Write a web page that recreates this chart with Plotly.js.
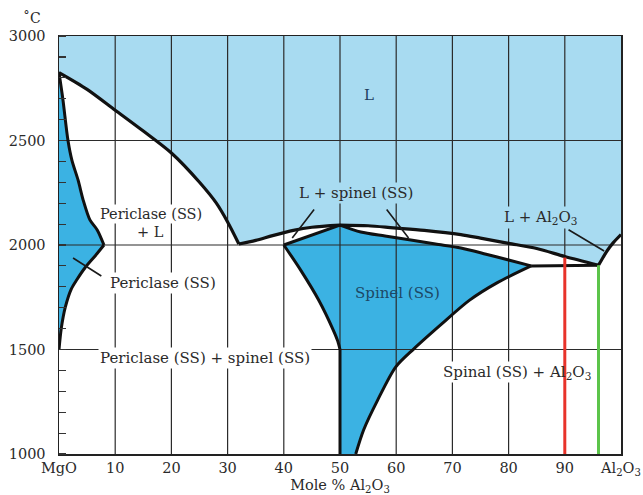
<!DOCTYPE html>
<html>
<head>
<meta charset="utf-8">
<script src="https://cdn.plot.ly/plotly-3.0.1.min.js"></script>
<style>html,body{margin:0;padding:0;background:#fff}#chart{width:643px;height:495px}</style>
</head>
<body>
<div id="chart"></div>
<script>
// ---- Data (mole % Al2O3, temperature °C) ----
var xTickVals = [0, 10, 20, 30, 40, 50, 60, 70, 80, 90, 100];
var xTickText = ['MgO', '10', '20', '30', '40', '50', '60', '70', '80', '90', 'Al<sub>2</sub>O<sub>3</sub>'];
var yTickVals = [1000, 1500, 2000, 2500, 3000];
var xGridVals = [10, 20, 30, 40, 50, 60, 70, 80, 90];
var yGridVals = [1500, 2000, 2500];

// Liquidus, MgO side (to the periclase–spinel eutectic)
var liqLeftX = [0, 5, 10, 15, 20, 25, 28, 30, 32];
var liqLeftY = [2825, 2745, 2645, 2545, 2440, 2300, 2200, 2110, 2005];
// Liquidus, spinel left branch (eutectic to congruent maximum)
var liqMidX = [32, 35, 38, 41.7, 45, 50];
var liqMidY = [2005, 2022, 2045, 2070, 2085, 2095];
// Liquidus, spinel right branch (maximum to spinel–Al2O3 eutectic)
var liqRightX = [50, 55, 59.5, 65, 71.5, 75, 80, 85, 90, 96];
var liqRightY = [2095, 2092, 2082, 2070, 2050, 2033, 2008, 1983, 1945, 1903];
// Liquidus, Al2O3 side
var liqAlX = [96, 96.8, 97.6, 98.6, 100];
var liqAlY = [1903, 1940, 1975, 2010, 2050];

// Periclase (SS) field
var perSolidusX = [0, 0.7, 1.6, 2.3, 3.4, 4.3, 5.5, 6.8, 8];
var perSolidusY = [2825, 2695, 2500, 2405, 2310, 2215, 2120, 2072, 2000];
var perSolvusX = [8, 6.5, 4.6, 3.2, 2.2, 1.1, 0.4, 0];
var perSolvusY = [2000, 1950, 1890, 1835, 1790, 1700, 1600, 1500];

// Spinel (SS) field
var spSolLeftX = [40, 50];
var spSolLeftY = [2000, 2095];
var spSolRightX = [50, 53.7, 58, 62.6, 67, 71.5, 76, 80, 84];
var spSolRightY = [2095, 2062, 2043, 2024, 2005, 1986, 1956, 1928, 1900];
var spSolvRightX = [84, 78, 73, 68, 63.1, 59.9, 56.7, 54.2, 52.8];
var spSolvRightY = [1900, 1820, 1735, 1620, 1502, 1416, 1258, 1115, 1000];
var spVertX = [50, 50];
var spVertY = [1000, 1500];
var spSolvLeftX = [50, 49.6, 48.8, 46.2, 43, 40];
var spSolvLeftY = [1500, 1540, 1593, 1737, 1880, 2000];

// Spinel–Al2O3 eutectic isotherm
var eutRightX = [84, 96];
var eutRightY = [1900, 1903];

// Marked compositions
var redX = [90, 90], redY = [1000, 1940];
var greenX = [96, 96], greenY = [1000, 1903];

var xMin = 0, xMax = 100, yMin = 1000, yMax = 3000;

// ---- Build traces ----
function rev(a) { return a.slice().reverse(); }

var lightBlue = '#a8dbf1';
var darkBlue = '#3bb2e3';
var bnd = '#111111';

var liqPolyX = [xMin, xMax].concat(rev(liqAlX), rev(liqRightX).slice(1), rev(liqMidX).slice(1), rev(liqLeftX).slice(1));
var liqPolyY = [yMax, yMax].concat(rev(liqAlY), rev(liqRightY).slice(1), rev(liqMidY).slice(1), rev(liqLeftY).slice(1));

var perPolyX = perSolidusX.concat(perSolvusX.slice(1));
var perPolyY = perSolidusY.concat(perSolvusY.slice(1));

var spPolyX = spSolLeftX.concat(spSolRightX.slice(1), spSolvRightX.slice(1), spVertX, spSolvLeftX.slice(1));
var spPolyY = spSolLeftY.concat(spSolRightY.slice(1), spSolvRightY.slice(1), spVertY, spSolvLeftY.slice(1));

var gx = [], gy = [];
xGridVals.forEach(function (v) { gx.push(v, v, null); gy.push(yMin, yMax, null); });
yGridVals.forEach(function (v) { gx.push(xMin, xMax, null); gy.push(v, v, null); });

function fillTrace(x, y, c) {
  return {x: x, y: y, type: 'scatter', mode: 'lines', fill: 'toself', fillcolor: c,
          line: {width: 0, color: c}, hoverinfo: 'skip', showlegend: false};
}
function lineTrace(x, y, c, w, spline) {
  return {x: x, y: y, type: 'scatter', mode: 'lines',
          line: {color: c, width: w, shape: spline ? 'spline' : 'linear', smoothing: 0.8},
          hoverinfo: 'skip', showlegend: false};
}

var traces = [
  fillTrace(liqPolyX, liqPolyY, lightBlue),
  fillTrace(perPolyX, perPolyY, darkBlue),
  fillTrace(spPolyX, spPolyY, darkBlue),
  lineTrace(gx, gy, '#2b2b2b', 1.2, false),
  lineTrace(liqLeftX, liqLeftY, bnd, 3.2, true),
  lineTrace(liqMidX, liqMidY, bnd, 3.2, true),
  lineTrace(liqRightX, liqRightY, bnd, 3.2, true),
  lineTrace(liqAlX, liqAlY, bnd, 3.2, true),
  lineTrace(perSolidusX, perSolidusY, bnd, 3, true),
  lineTrace(perSolvusX, perSolvusY, bnd, 3, true),
  lineTrace(spSolLeftX, spSolLeftY, bnd, 3, false),
  lineTrace(spSolRightX, spSolRightY, bnd, 3, true),
  lineTrace(spSolvRightX, spSolvRightY, bnd, 3, true),
  lineTrace(spVertX, spVertY, bnd, 3, false),
  lineTrace(spSolvLeftX, spSolvLeftY, bnd, 3, true),
  lineTrace(eutRightX, eutRightY, bnd, 3, false),
  lineTrace(redX, redY, '#e8332a', 3, false),
  lineTrace(greenX, greenY, '#5cc44a', 3, false)
];

var serif = 'DejaVu Serif, Liberation Serif, serif';
var txt = '#2a2a2a';
var fs = 15;

function label(text, x, y, bg, color, xanchor, size) {
  return {text: text, x: x, y: y, xref: 'x', yref: 'y', showarrow: false,
          xanchor: xanchor || 'center',
          font: {family: serif, size: size || fs, color: color || txt},
          bgcolor: bg || 'rgba(0,0,0,0)', borderpad: 1};
}
function leader(x0, y0, x1, y1) {
  return {text: '', x: x1, y: y1, ax: x0, ay: y0, xref: 'x', yref: 'y', axref: 'x', ayref: 'y',
          showarrow: true, arrowhead: 0, arrowwidth: 1.6, arrowcolor: '#1a1a1a', standoff: 0, startstandoff: 0};
}

var annotations = [
  label('L', 55.1, 2718, null, '#1d3f5e'),
  label('Periclase (SS)', 16.4, 2146, '#ffffff', null, null, 14.5),
  label('+ L', 16.2, 2062, '#ffffff', null, null, 14.5),
  label('Periclase (SS)', 18.5, 1818, '#ffffff'),
  label('L + spinel (SS)', 52.8, 2249, lightBlue),
  label('L + Al<sub>2</sub>O<sub>3</sub>', 85.7, 2132, lightBlue),
  label('Spinel (SS)', 60.2, 1770, null, '#1d4866'),
  label('Periclase (SS) + spinel (SS)', 26, 1459, '#ffffff'),
  label('Spinal (SS) +', 86.9, 1392, '#ffffff', null, 'right'),
  label('Al<sub>2</sub>O<sub>3</sub>', 86.9, 1388, null, null, 'left'),
  leader(45.6, 2177, 41.5, 2033),
  leader(58.1, 2177, 62.2, 2033),
  leader(7.8, 1847, 2.5, 1938),
  leader(90.4, 2077, 97, 1971),
  {text: '\u02daC', xref: 'paper', yref: 'paper', x: -0.048, y: 1.02, xanchor: 'center', yanchor: 'bottom',
   showarrow: false, font: {family: serif, size: 14, color: txt}}
];

var layout = {
  width: 643, height: 495,
  margin: {l: 59, r: 22, t: 36, b: 41, pad: 0},
  paper_bgcolor: '#ffffff', plot_bgcolor: '#ffffff',
  showlegend: false,
  xaxis: {range: [xMin, xMax], tickvals: xTickVals, ticktext: xTickText, ticks: '',
          showgrid: false, zeroline: false, showline: true, linecolor: '#222', linewidth: 1.5, mirror: true,
          tickfont: {family: serif, size: 14.5, color: txt},
          title: {text: 'Mole % Al<sub>2</sub>O<sub>3</sub>', font: {family: serif, size: 14.5, color: txt}, standoff: 7}},
  yaxis: {range: [yMin, yMax], tickvals: yTickVals, ticks: '', ticklabelstandoff: 9,
          showgrid: false, zeroline: false, showline: true, linecolor: '#222', linewidth: 1.5, mirror: true,
          tickfont: {family: serif, size: 14.5, color: txt},
          minor: {dtick: 100, tick0: 1000, ticks: 'inside', ticklen: 7, tickcolor: '#333', tickwidth: 1.2, showgrid: false}},
  annotations: annotations
};

Plotly.newPlot('chart', traces, layout, {staticPlot: true, displayModeBar: false});
</script>
</body>
</html>
